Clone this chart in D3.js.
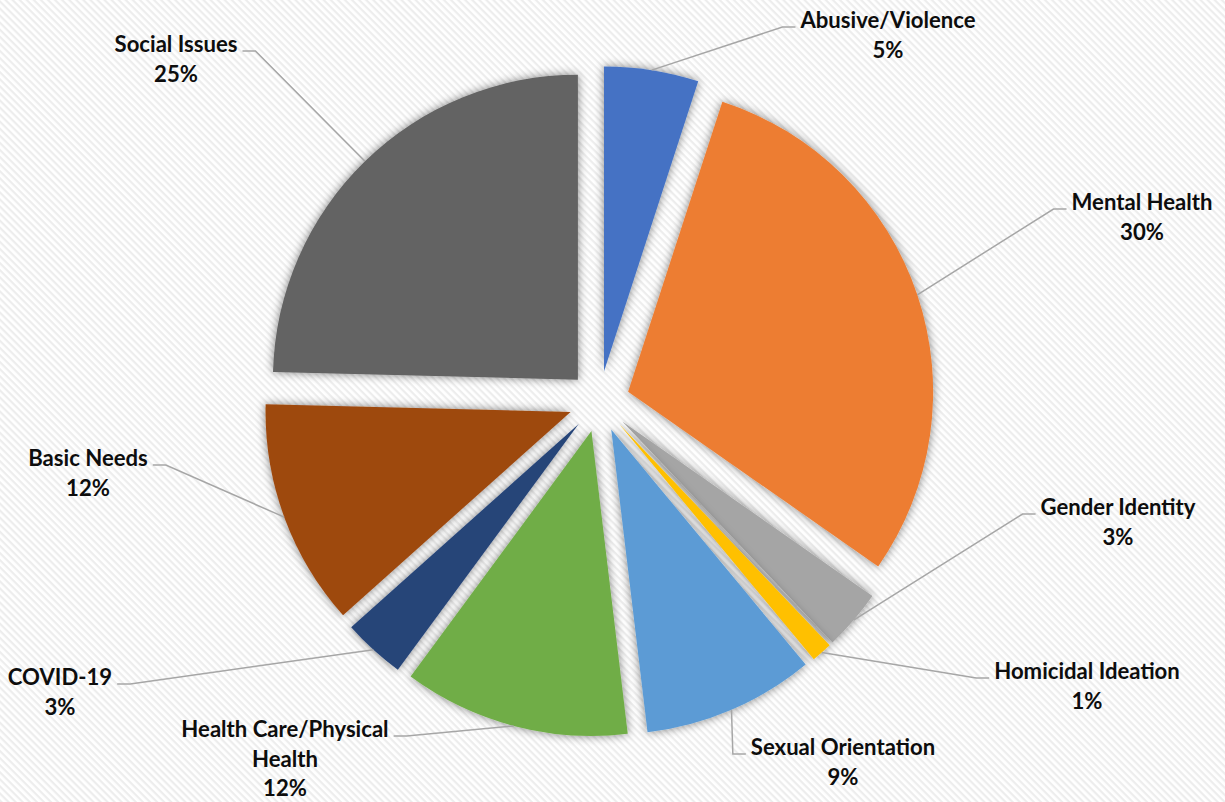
<!DOCTYPE html>
<html>
<head>
<meta charset="utf-8">
<script src="https://cdn.jsdelivr.net/npm/d3@7"></script>
<style>
  html, body { margin: 0; padding: 0; background: #fff; }
  svg { display: block; }
</style>
</head>
<body>
<svg id="chart" width="1225" height="802"></svg>
<script>
// Share of contacts by topic (percent)
const categories = [
  "Abusive/Violence", "Mental Health", "Gender Identity", "Homicidal Ideation",
  "Sexual Orientation", "Health Care/Physical Health", "COVID-19", "Basic Needs", "Social Issues"
];
const shares = [5.0, 29.7, 3.2, 1.1, 9.1, 12.0, 3.3, 12.0, 24.6];
const colors = [
  "#4472C4", "#ED7D31", "#A5A5A5", "#FFC000",
  "#5B9BD5", "#70AD47", "#264478", "#9E480E", "#636363"
];
// How each category name wraps in its label
const labelLines = [
  ["Abusive/Violence"], ["Mental Health"], ["Gender Identity"], ["Homicidal Ideation"],
  ["Sexual Orientation"], ["Health Care/Physical", "Health"], ["COVID-19"], ["Basic Needs"], ["Social Issues"]
];

// Layout
const W = 1225, H = 802;
const cx = 599.2, cy = 401.5, R = 305, explode = 30.5;
const lineH = 29.5;
// label anchors: centre x, first baseline y
const labelPos = [
  [888, 28], [1142, 210], [1118, 515], [1087, 679],
  [843, 755], [285, 737], [60, 685], [88, 466], [176, 52]
];

const data = categories.map((c, i) => ({ name: c, value: shares[i], color: colors[i], lines: labelLines[i], pos: labelPos[i] }));

const svg = d3.select("#chart");
const defs = svg.append("defs");

// diagonal pinstripe background
const pat = defs.append("pattern")
  .attr("id", "stripes")
  .attr("width", 5).attr("height", 5)
  .attr("patternUnits", "userSpaceOnUse")
  .attr("patternTransform", "rotate(45)");
pat.append("rect").attr("width", 5).attr("height", 5).attr("fill", "#ffffff");
pat.append("rect").attr("width", 5).attr("height", 2.2).attr("fill", "#ededed");

// soft shadow around each slice
const f = defs.append("filter").attr("id", "soft")
  .attr("x", "-20%").attr("y", "-20%").attr("width", "140%").attr("height", "140%");
f.append("feGaussianBlur").attr("in", "SourceAlpha").attr("stdDeviation", 5).attr("result", "b");
f.append("feComponentTransfer").attr("in", "b").attr("result", "s")
  .append("feFuncA").attr("type", "linear").attr("slope", 0.5);
const fm = f.append("feMerge");
fm.append("feMergeNode").attr("in", "s");
fm.append("feMergeNode").attr("in", "SourceGraphic");

svg.append("rect").attr("width", W).attr("height", H).attr("fill", "url(#stripes)");

const pie = d3.pie().sort(null).value(d => d.value);
const arc = d3.arc().innerRadius(0).outerRadius(R);
const arcs = pie(data);

const mid = a => (a.startAngle + a.endAngle) / 2;

const g = svg.append("g").attr("transform", `translate(${cx},${cy})`);
g.selectAll("path.slice")
  .data(arcs)
  .join("path")
  .attr("class", "slice")
  .attr("d", arc)
  .attr("fill", d => d.data.color)
  .attr("filter", "url(#soft)")
  .attr("transform", d => {
    const m = mid(d);
    return `translate(${explode * Math.sin(m)},${-explode * Math.cos(m)})`;
  });

// label text
const fontFamily = "Lato, 'Open Sans', sans-serif";
// size the label font so that a reference label spans its measured width
const probe = svg.append("text").attr("font-family", fontFamily).attr("font-weight", 700)
  .attr("font-size", 20).text("Social Issues");
const fontSize = 20 * 123 / probe.node().getComputedTextLength();
probe.remove();

const lines = svg.append("g");
const labels = svg.append("g")
  .attr("font-family", fontFamily)
  .attr("font-weight", 700)
  .attr("font-size", fontSize)
  .attr("fill", "#0d0d0d")
  .attr("text-anchor", "middle");

arcs.forEach(a => {
  const d = a.data;
  const [lx, ly] = d.pos;
  const t = labels.append("text");
  const rows = d.lines.concat([Math.round(d.value) + "%"]);
  rows.forEach((r, i) => t.append("tspan").attr("x", lx).attr("y", ly + i * lineH).text(r));

  // width of the first row decides where the leader line meets the label
  const w0 = t.select("tspan").node().getComputedTextLength();
  const m = mid(a);
  const sx = cx + (R + explode) * Math.sin(m);
  const sy = cy - (R + explode) * Math.cos(m);
  const ey = ly - 1;
  let ex, kx;
  if (sx < lx) { ex = lx - w0 / 2 - 5; kx = ex - 13; }
  else { ex = lx + w0 / 2 + 5; kx = ex + 13; }
  lines.append("path")
    .attr("d", d3.line()([[sx, sy], [kx, ey], [ex, ey]]))
    .attr("fill", "none")
    .attr("stroke", "#a6a6a6")
    .attr("stroke-width", 1.5);
});
</script>
</body>
</html>
